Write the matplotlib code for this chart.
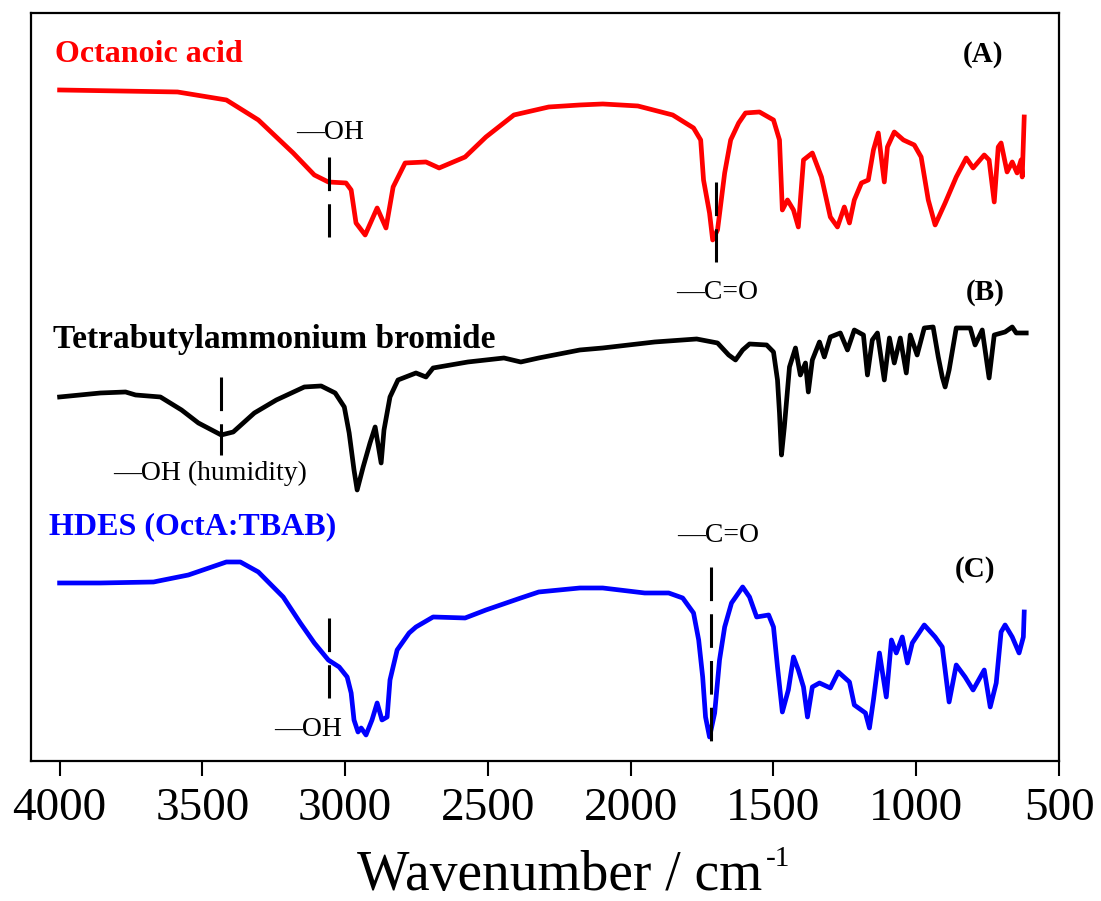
import matplotlib.pyplot as plt

plt.rcParams["font.family"] = ["Liberation Serif", "DejaVu Serif"]

# Spectra (wavenumber in cm-1, stacked intensity in a.u.)
octa_wn = [4000, 3587, 3416, 3304, 3182, 3108, 3059, 2997, 2979, 2962, 2930, 2888,
           2857, 2832, 2790, 2717, 2671, 2580, 2507, 2409, 2287, 2178, 2098, 1975,
           1853, 1780, 1755, 1745, 1724, 1713, 1696, 1671, 1650, 1622, 1598, 1549,
           1500, 1479, 1469, 1451, 1430, 1413, 1395, 1364, 1332, 1301, 1276, 1252,
           1234, 1217, 1192, 1168, 1150, 1133, 1112, 1101, 1077, 1045, 1007, 983,
           958, 934, 899, 860, 825, 801, 762, 745, 727, 713, 703, 682, 664, 647,
           633, 629, 622]
octa_y = [671, 669, 661, 641, 608, 586, 579, 578, 571, 538, 526, 553,
          533, 574, 598, 599, 593, 604, 624, 646, 654, 656, 657, 655,
          646, 633, 621, 581, 548, 521, 531, 588, 621, 638, 648, 649,
          641, 621, 551, 561, 551, 534, 601, 608, 584, 544, 534, 554,
          538, 561, 578, 581, 611, 628, 579, 614, 629, 621, 616, 604,
          561, 536, 558, 584, 603, 593, 606, 601, 559, 614, 618, 589, 599, 588,
          601, 584, 644]

tbab_wn = [4000, 3857, 3769, 3734, 3647, 3573, 3514, 3434, 3392, 3318, 3241, 3143,
           3084, 3035, 3003, 2986, 2969, 2958, 2937, 2913, 2895, 2874, 2864, 2843,
           2815, 2752, 2717, 2692, 2570, 2444, 2385, 2322, 2178, 2098, 1916, 1769,
           1696, 1657, 1633, 1608, 1584, 1524, 1500, 1486, 1479, 1472, 1462, 1444,
           1423, 1406, 1388, 1378, 1364, 1339, 1322, 1301, 1266, 1241, 1217, 1185,
           1171, 1154, 1136, 1112, 1094, 1077, 1056, 1035, 1021, 997, 972, 941,
           923, 909, 899, 885, 860, 811, 794, 769, 745, 727, 689, 664, 650, 615]
tbab_y = [364, 368, 369, 366, 364, 351, 338, 326, 329, 348, 361, 374,
          375, 368, 354, 328, 291, 271, 294, 318, 334, 298, 331, 364,
          381, 388, 384, 393, 399, 403, 399, 403, 411, 413, 419, 422,
          418, 406, 401, 411, 417, 416, 409, 381, 348, 306, 334, 394,
          413, 386, 398, 369, 401, 419, 404, 424, 428, 411, 431, 426,
          386, 421, 428, 381, 423, 398, 423, 388, 426, 406, 433, 434,
          404, 384, 374, 391, 433, 433, 416, 431, 383, 426, 429, 434, 428, 428]

hdes_wn = [4000, 3857, 3671, 3549, 3416, 3367, 3304, 3217, 3157, 3108, 3059, 3021,
           2993, 2979, 2969, 2955, 2944, 2927, 2906, 2888, 2871, 2853, 2843, 2818,
           2776, 2752, 2692, 2580, 2507, 2385, 2322, 2178, 2098, 1951, 1867, 1818,
           1780, 1762, 1748, 1738, 1724, 1706, 1689, 1671, 1647, 1608, 1584, 1559,
           1517, 1500, 1486, 1469, 1448, 1430, 1413, 1395, 1381, 1364, 1339, 1301,
           1273, 1234, 1217, 1178, 1164, 1150, 1129, 1105, 1087, 1070, 1049, 1031,
           1014, 972, 934, 909, 885, 860, 829, 801, 762, 741, 720, 703, 689, 664,
           640, 625, 622]
hdes_y = [178, 178, 179, 186, 199, 199, 189, 164, 138, 118, 101, 94,
          84, 68, 41, 29, 33, 26, 41, 58, 41, 44, 81, 111,
          128, 134, 144, 143, 151, 163, 169, 173, 173, 168, 168, 163,
          148, 121, 84, 44, 24, 48, 101, 134, 158, 174, 164, 144,
          146, 134, 94, 49, 71, 104, 91, 74, 44, 74, 78, 73,
          89, 79, 56, 48, 33, 61, 108, 64, 121, 108, 124, 98,
          118, 136, 124, 114, 59, 96, 84, 71, 91, 54, 78, 129, 136, 124,
          108, 124, 149]

# Band markers: (wavenumber, top, bottom)
marker_bands = [(3056, 604, 524), (1701, 579, 499), (3434, 384, 306),
                (3056, 143, 63), (1720, 194, 8)]

ticks = [4000, 3500, 3000, 2500, 2000, 1500, 1000, 500]

fig = plt.figure(figsize=(11.01, 9.01), dpi=100)
ax = fig.add_axes([0.0282, 0.1554, 0.9337, 0.8302])

ax.plot(octa_wn, octa_y, color="#ff0000", lw=3.4, solid_joinstyle="round")
ax.plot(tbab_wn, tbab_y, color="black", lw=3.4, solid_joinstyle="round")
ax.plot(hdes_wn, hdes_y, color="#0000ff", lw=3.4, solid_joinstyle="round")

for wn, top, bottom in marker_bands:
    ax.plot([wn, wn], [top, bottom], color="black", lw=2.2,
            linestyle=(0, (11, 4.3)), dash_capstyle="butt")

# labels
bold = dict(fontsize=23, fontweight="bold", va="center")
ax.text(4016, 706, "Octanoic acid", color="#ff0000", ha="left", **bold)
ax.text(4023, 421, "Tetrabutylammonium bromide", color="black", ha="left",
        fontsize=24, fontweight="bold", va="center")
ax.text(4037, 234, "HDES (OctA:TBAB)", color="#0000ff", ha="left", **bold)
ax.text(766, 706, "(A)", ha="center", fontsize=21, fontweight="bold", va="center")
ax.text(759, 468, "(B)", ha="center", fontsize=21, fontweight="bold", va="center")
ax.text(794, 191, "(C)", ha="center", fontsize=21, fontweight="bold", va="center")

reg = dict(fontsize=20, va="center", ha="center")
ax.text(3053, 628, "\u2014OH", **reg)
ax.text(1698, 468, "\u2014C=O", **reg)
ax.text(3473, 288, "\u2014OH (humidity)", **reg)
ax.text(1694, 225, "\u2014C=O", **reg)
ax.text(3130, 31, "\u2014OH", **reg)

ax.set_xlim(4100, 500)
ax.set_ylim(0, 748)
ax.set_xticks(ticks)
ax.set_xticklabels([str(t) for t in ticks])
ax.set_yticks([])
ax.tick_params(axis="x", direction="out", length=11, width=1.5,
               labelsize=34, pad=8)
for s in ax.spines.values():
    s.set_linewidth(1.6)

# x label with a small "-1" superscript
fig.text(560 / 1101, 1 - 890 / 901, "Wavenumber / cm", fontsize=40,
         ha="center", va="baseline")
fig.text(766 / 1101, 1 - 866 / 901, "-1", fontsize=21, ha="left", va="baseline")

fig.savefig("out.png", dpi=100)
